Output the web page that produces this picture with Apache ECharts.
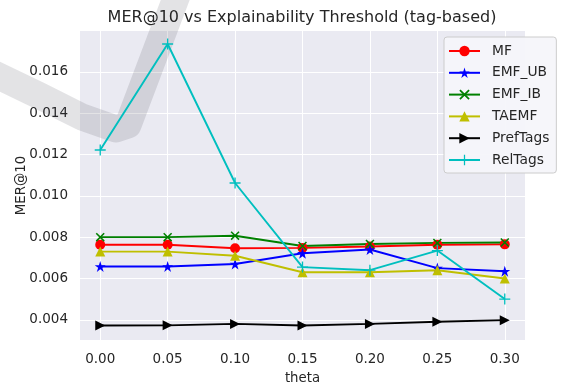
<!DOCTYPE html>
<html>
<head>
<meta charset="utf-8">
<script src="https://cdn.jsdelivr.net/npm/echarts@6/dist/echarts.min.js"></script>
<style>
html,body{margin:0;padding:0;background:#fff;}
#chart{width:561px;height:387px;}
</style>
</head>
<body>
<div id="chart"></div>
<script>
const thetas = [0.00, 0.05, 0.10, 0.15, 0.20, 0.25, 0.30];
const xTicks = [0.00, 0.05, 0.10, 0.15, 0.20, 0.25, 0.30];
const yTicks = [0.004, 0.006, 0.008, 0.010, 0.012, 0.014, 0.016];
const mf       = [0.00763, 0.00763, 0.00746, 0.00748, 0.00755, 0.00763, 0.00765];
const emfUB    = [0.00658, 0.00658, 0.00670, 0.00722, 0.00740, 0.00650, 0.00635];
const emfIB    = [0.00800, 0.00800, 0.00807, 0.00757, 0.00767, 0.00772, 0.00774];
const taemf    = [0.00730, 0.00730, 0.00710, 0.00630, 0.00630, 0.00640, 0.00600];
const prefTags = [0.00372, 0.00373, 0.00380, 0.00372, 0.00380, 0.00390, 0.00398];
const relTags  = [0.01222, 0.01735, 0.01062, 0.00655, 0.00640, 0.00735, 0.00500];

const STAR = 'path://M0,-100 L22.45,-30.9 L95.1,-30.9 L36.3,11.8 L58.8,80.9 L0,38.2 L-58.8,80.9 L-36.3,11.8 L-95.1,-30.9 L-22.45,-30.9 Z';
const XMARK = 'path://M0,12 L12,0 L100,88 L88,100 Z M88,0 L100,12 L12,100 L0,88 Z';
const PLUS = 'path://M44,0 L56,0 L56,44 L100,44 L100,56 L56,56 L56,100 L44,100 L44,56 L0,56 L0,44 L44,44 Z';
const TRI_R = 'path://M0,0 L100,50 L0,100 Z';

function pairs(vals){ return thetas.map((t,i)=>[t, vals[i]]); }

function mk(name, vals, color, symbol, size){
  return {
    name: name, type: 'line', data: pairs(vals),
    symbol: symbol, symbolSize: size, showSymbol: true,
    lineStyle: {color: color, width: 1.9},
    itemStyle: {color: color, borderWidth: 0},
    emphasis: {disabled: true},
    z: 3
  };
}

const chart = echarts.init(document.getElementById('chart'), null, {renderer: 'canvas'});
const txt = '#262626';
chart.setOption({
  animation: false,
  backgroundColor: '#ffffff',
  textStyle: {fontFamily: 'DejaVu Sans'},
  title: {
    text: 'MER@10 vs Explainability Threshold (tag-based)',
    left: 297, top: 5, textAlign: 'center',
    textStyle: {fontSize: 16, fontWeight: 'normal', color: txt, fontFamily: 'DejaVu Sans'}
  },
  graphic: [{
    type: 'polyline', z: 1, silent: true,
    shape: {points: [[-10,72],[40,96],[82,117],[116,129],[128,125],[179,-10]]},
    style: {stroke: 'rgba(60,60,70,0.14)', lineWidth: 27, fill: null, lineJoin: 'round'}
  }],
  grid: {
    left: 80, right: 36, top: 31, bottom: 47,
    outerBoundsMode: 'none', containLabel: false,
    show: true, backgroundColor: '#EAEAF2', borderWidth: 0
  },
  legend: {
    orient: 'vertical', left: 444, top: 37,
    padding: [6, 7, 5, 4],
    itemWidth: 31, itemHeight: 13, itemGap: 5.8,
    backgroundColor: 'rgba(246,246,250,0.95)', borderColor: '#CCCCCC', borderWidth: 1, borderRadius: 3,
    textStyle: {fontSize: 13.8, color: txt, fontFamily: 'DejaVu Sans', lineHeight: 16, padding: [0, 0, 0, 7]},
    data: ['MF', 'EMF_UB', 'EMF_IB', 'TAEMF', 'PrefTags', 'RelTags']
  },
  xAxis: {
    type: 'value', min: -0.015, max: 0.315,
    name: 'theta', nameLocation: 'middle', nameGap: 32, nameMoveOverlap: false,
    nameTextStyle: {fontSize: 13.3, color: txt, fontFamily: 'DejaVu Sans'},
    axisLine: {show: false},
    axisTick: {show: false, customValues: xTicks},
    axisLabel: {customValues: xTicks, fontSize: 13.5, color: txt, margin: 12,
      formatter: v => v.toFixed(2)},
    splitLine: {show: true, lineStyle: {color: '#ffffff', width: 1}}
  },
  yAxis: {
    type: 'value', min: 0.00302, max: 0.01798,
    name: 'MER@10', nameLocation: 'middle', nameGap: 52, nameRotate: 90, nameMoveOverlap: false,
    nameTextStyle: {fontSize: 13.3, color: txt, fontFamily: 'DejaVu Sans'},
    axisLine: {show: false},
    axisTick: {show: false, customValues: yTicks},
    axisLabel: {customValues: yTicks, fontSize: 13.5, color: txt, margin: 12,
      formatter: v => v.toFixed(3)},
    splitLine: {show: true, lineStyle: {color: '#ffffff', width: 1}}
  },
  series: [
    mk('MF', mf, '#FF0000', 'circle', 10),
    mk('EMF_UB', emfUB, '#0000FF', STAR, 11),
    mk('EMF_IB', emfIB, '#008000', XMARK, 9),
    mk('TAEMF', taemf, '#BFBF00', 'triangle', 10),
    mk('PrefTags', prefTags, '#000000', TRI_R, 10),
    mk('RelTags', relTags, '#00BFBF', PLUS, 11)
  ]
});
</script>
</body>
</html>
